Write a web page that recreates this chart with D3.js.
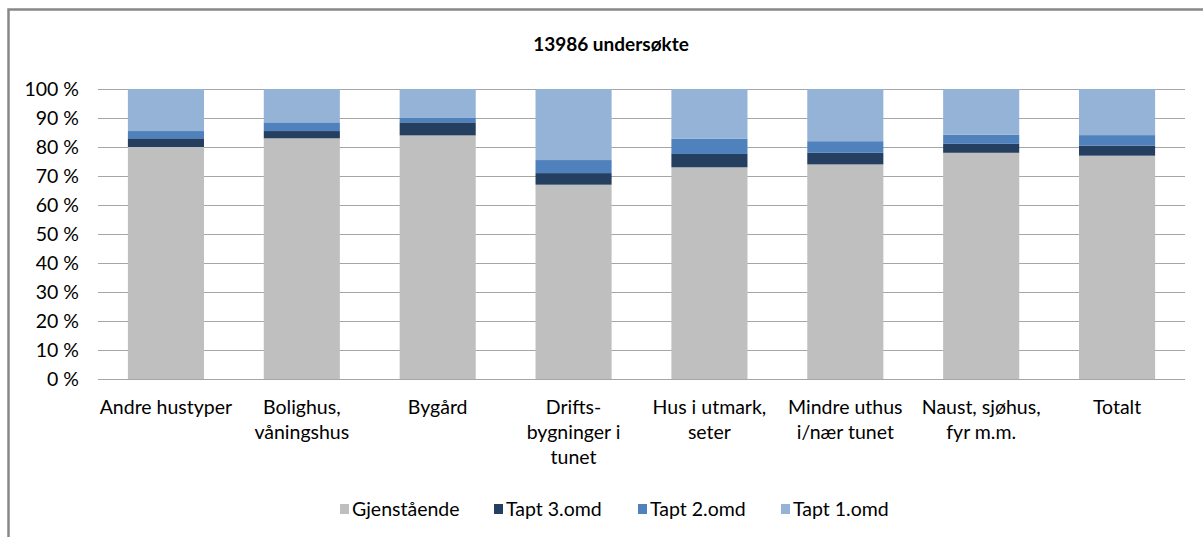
<!DOCTYPE html>
<html lang="no">
<head>
<meta charset="utf-8">
<script src="https://cdnjs.cloudflare.com/ajax/libs/d3/7.8.5/d3.min.js"></script>
<style>
  body { margin: 0; background: #fff; }
  svg text { font-family: Lato, "Open Sans", sans-serif; fill: #000; }
</style>
</head>
<body>
<svg id="chart" width="1203" height="537"></svg>
<script>
// categories (lines split for multi-line labels)
const categories = ["Andre hustyper", "Bolighus,|våningshus", "Bygård", "Drifts-|bygninger i|tunet",
  "Hus i utmark,|seter", "Mindre uthus|i/nær tunet", "Naust, sjøhus,|fyr m.m.", "Totalt"]
const series = ["Gjenstående", "Tapt 3.omd", "Tapt 2.omd", "Tapt 1.omd"]
const gjenstaende = [80, 83, 84, 67, 73, 74, 78, 77]
const tapt3 = [3, 2.5, 4.5, 4, 4.6, 4, 3.1, 3.5]
const tapt2 = [2.5, 3, 1.7, 4.5, 5.3, 4, 3.1, 3.6]
const tapt1 = [14.5, 11.5, 9.8, 24.5, 17.1, 18, 15.8, 15.9]
const yTicks = [0, 10, 20, 30, 40, 50, 60, 70, 80, 90, 100]
const colors = ["#bfbfbf", "#243f60", "#4f81bd", "#95b3d7"]

const rows = categories.map((c, i) => ({
  cat: c, "Gjenstående": gjenstaende[i], "Tapt 3.omd": tapt3[i],
  "Tapt 2.omd": tapt2[i], "Tapt 1.omd": tapt1[i]
}))

const svg = d3.select("#chart")
const margin = {left: 98, right: 1185, top: 89, bottom: 379}
const fs = "19.5px"

// outer frame of the chart area
svg.append("path")
  .attr("d", "M8.5,600 L8.5,9.5 L1210,9.5")
  .attr("fill", "none").attr("stroke", "#888").attr("stroke-width", 2.5)

svg.append("text")
  .attr("x", 611).attr("y", 51)
  .attr("text-anchor", "middle")
  .style("font-weight", "bold").style("font-size", "19px")
  .text("13986 undersøkte")

const x = d3.scaleBand().domain(categories).range([margin.left, margin.right]).paddingInner(0.44).paddingOuter(0.22)
const y = d3.scaleLinear().domain([0, 100]).range([margin.bottom, margin.top])

// gridlines
svg.append("g").selectAll("line").data(yTicks).join("line")
  .attr("x1", margin.left).attr("x2", margin.right)
  .attr("y1", d => Math.round(y(d)) + 0.5).attr("y2", d => Math.round(y(d)) + 0.5)
  .attr("stroke", "#a6a6a6").attr("stroke-width", 1)

svg.append("g").selectAll("text").data(yTicks).join("text")
  .attr("x", 79).attr("y", d => y(d) + 7)
  .attr("text-anchor", "end").style("font-size", fs)
  .text(d => d + " %")

const stacked = d3.stack().keys(series)(rows)

svg.append("g").selectAll("g").data(stacked).join("g")
  .attr("fill", (d, i) => colors[i])
  .selectAll("rect").data(d => d).join("rect")
  .attr("x", d => x(d.data.cat))
  .attr("width", x.bandwidth())
  .attr("y", d => y(d[1]))
  .attr("height", d => y(d[0]) - y(d[1]))

// category labels
const labels = svg.append("g").selectAll("text").data(categories).join("text")
  .attr("text-anchor", "middle").style("font-size", fs)
labels.each(function(c) {
  const t = d3.select(this)
  c.split("|").forEach((line, j) => {
    t.append("tspan").attr("x", x(c) + x.bandwidth() / 2).attr("y", 414 + j * 25).text(line)
  })
})

// legend
const legendX = [340, 494, 638, 781]
const legend = svg.append("g").selectAll("g").data(series).join("g")
  .attr("transform", (d, i) => `translate(${legendX[i]}, 509)`)
legend.append("rect").attr("x", 0).attr("y", -5).attr("width", 9).attr("height", 10)
  .attr("fill", (d, i) => colors[i])
legend.append("text").attr("x", 12).attr("y", 7).style("font-size", fs).text(d => d)
</script>
</body>
</html>
